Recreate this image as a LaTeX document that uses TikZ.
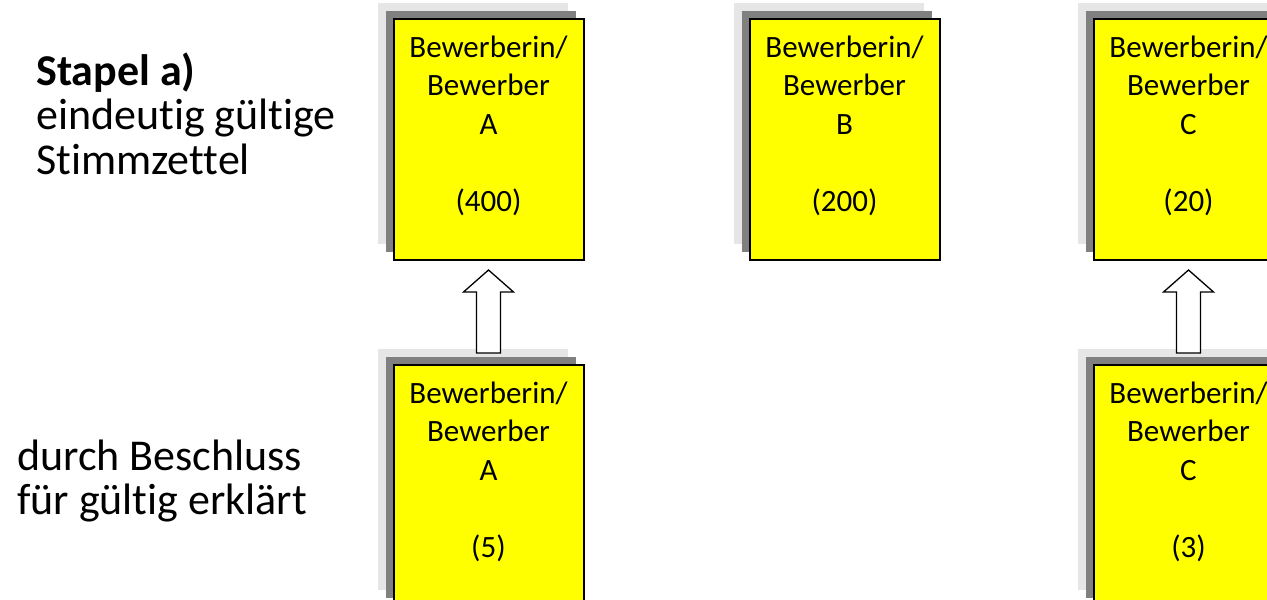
\documentclass[tikz,border=0pt]{standalone}
\usepackage{fontspec}
\setmainfont{Carlito}[Ligatures=NoCommon]
\usepackage{tikz}
\usetikzlibrary{shadows}

\definecolor{zettelgelb}{HTML}{FFFF00}
\definecolor{stapeldunkel}{HTML}{808080}
\definecolor{stapelhell}{HTML}{E6E6E6}

\begin{document}
\begin{tikzpicture}[
      x=1pt,y=-1pt,
      info/.style ={font=\fontsize{44}{44.5}\selectfont,text width=330pt,align=flush left,inner sep=0pt,anchor=base west},
      zettel/.style={draw=black,line width=2pt,fill=zettelgelb,anchor=north west,
                     minimum width=190pt,text width=190pt,inner sep=0pt,align=flush center,
                     text height=38.5pt,text depth=202.5pt,
                     font=\fontsize{31}{38.5}\selectfont,
                     general shadow={fill=stapelhell,draw=none,shadow xshift=-16pt,shadow yshift=16pt},
                     general shadow={fill=stapeldunkel,draw=none,shadow xshift=-8pt,shadow yshift=8pt}},
      pfeil/.style ={draw=black,line width=1.3pt,fill=white,line join=miter}]
      % Rahmen
      \useasboundingbox (0,0) rectangle (1267,600);
      \clip (0,0) rectangle (1267,600);
      % Beschriftung links
      \node[info] (oben) at (36,85) {\textbf{Stapel a)}\\eindeutig gültige\\Stimmzettel};
      \node[info] (unten) at (17,470) {durch Beschluss\\für gültig erklärt};
      % Stapel
      \newcommand{\stapel}[5]{%
        \node[zettel] (#1) at (#2,#3) {Bewerberin/\\Bewerber\\#4\\[38.5pt](#5)};
      }
      \stapel{A1}{392.5}{17.5}{A}{400}
      \stapel{B1}{748.5}{17.5}{B}{200}
      \stapel{C1}{1092.5}{17.5}{C}{20}
      \stapel{A2}{392.5}{363.5}{A}{5}
      \stapel{C2}{1092.5}{363.5}{C}{3}
      % Pfeile
      \newcommand{\hochpfeil}[2]{%
        \draw[pfeil] ([shift={(-12pt,10.5pt)}]#1.north) -- ([shift={(-12pt,-31.5pt)}]#2.south)
          -- ([shift={(-25pt,-31.5pt)}]#2.south) -- ([yshift=-9.5pt]#2.south)
          -- ([shift={(25pt,-31.5pt)}]#2.south) -- ([shift={(12pt,-31.5pt)}]#2.south)
          -- ([shift={(12pt,10.5pt)}]#1.north) -- cycle;
      }
      \hochpfeil{A2}{A1}
      \hochpfeil{C2}{C1}
  \end{tikzpicture}
\end{document}
